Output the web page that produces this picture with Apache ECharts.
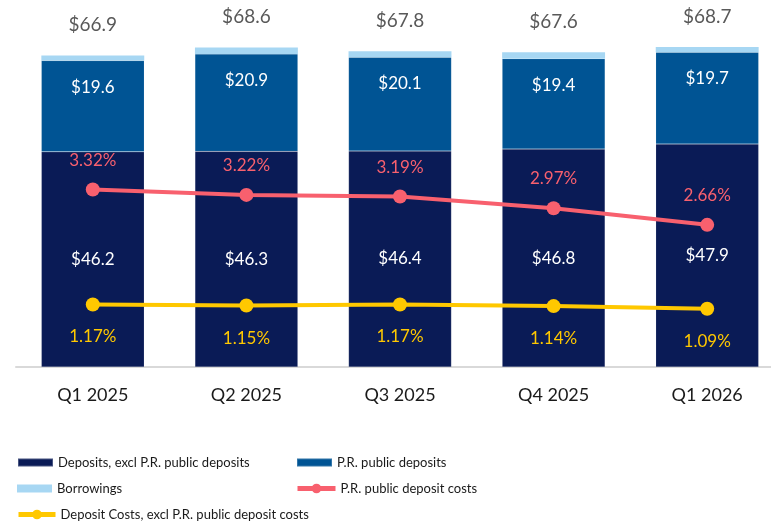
<!DOCTYPE html>
<html>
<head>
<meta charset="utf-8">
<script src="https://cdn.jsdelivr.net/npm/echarts@6/dist/echarts.min.js"></script>
<style>
  html, body { margin: 0; padding: 0; background: #fff; }
  #myChart { width: 771px; height: 521px; }
</style>
</head>
<body>
<div id="myChart"></div>
<script>
// data ($ billions / %)
var quarters = ['Q1 2025', 'Q2 2025', 'Q3 2025', 'Q4 2025', 'Q1 2026'];
var depositsExcl = [46.2, 46.3, 46.4, 46.8, 47.9];
var prDeposits = [19.6, 20.9, 20.1, 19.4, 19.7];
var borrowings = [1.1, 1.4, 1.3, 1.4, 1.1];
var totals = [66.9, 68.6, 67.8, 67.6, 68.7];
var prCosts = [3.32, 3.22, 3.19, 2.97, 2.66];
var depositCosts = [1.17, 1.15, 1.17, 1.14, 1.09];

var font = 'Lato, "Open Sans", sans-serif';
var navy = '#0a1b56';
var blue = '#005494';
var lightBlue = '#a7d7f3';
var red = '#f8606e';
var yellow = '#ffc800';

var myChart = echarts.init(document.getElementById('myChart'));

function oneLegend(name, left, top, w, h, isLine) {
  var lg = {
    data: [name],
    left: left,
    top: top,
    padding: 0,
    itemWidth: w,
    itemHeight: h,
    selectedMode: false,
    textStyle: { fontFamily: font, fontSize: 13, color: '#1a1a1a' }
  };
  if (isLine) {
    lg.lineStyle = { width: 5 };
  } else {
    lg.icon = 'rect';
  }
  return lg;
}

myChart.setOption({
  backgroundColor: '#fff',
  animation: false,
  textStyle: { fontFamily: font },
  legend: [
    oneLegend('Deposits, excl P.R. public deposits', 17, 456, 35, 8),
    oneLegend('P.R. public deposits', 296, 456, 35, 8),
    oneLegend('Borrowings', 17, 482, 35, 8),
    oneLegend('P.R. public deposit costs', 295, 482, 38, 12, true),
    oneLegend('Deposit Costs, excl P.R. public deposit costs', 16, 508, 37, 12, true)
  ],
  grid: { left: 16, top: 41, width: 768, height: 326, outerBoundsMode: 'none' },
  xAxis: {
    type: 'category',
    data: quarters,
    axisTick: { show: false },
    axisLine: { lineStyle: { color: '#d9d9d9', width: 2 } },
    axisLabel: { fontFamily: font, fontSize: 18, color: '#1a1a1a', margin: 19 }
  },
  yAxis: [
    { type: 'value', min: 0, max: 70, show: false },
    { type: 'value', min: 0, max: 6.1, show: false }
  ],
  series: [
    {
      name: 'Deposits, excl P.R. public deposits',
      type: 'bar',
      stack: 'total',
      barWidth: '67%',
      data: depositsExcl,
      itemStyle: { color: navy, borderColor: 'rgba(255,255,255,0.25)', borderWidth: 0.5 },
      label: {
        show: true, position: 'inside', color: '#fff', fontSize: 17,
        formatter: function (p) { return '$' + p.value.toFixed(1); }
      },
      z: 1
    },
    {
      name: 'P.R. public deposits',
      type: 'bar',
      stack: 'total',
      data: prDeposits,
      itemStyle: { color: blue, borderColor: 'rgba(255,255,255,0.2)', borderWidth: 0.5 },
      label: {
        show: true, position: 'insideTop', distance: 18, color: '#fff', fontSize: 17,
        formatter: function (p) { return '$' + p.value.toFixed(1); }
      },
      z: 1
    },
    {
      name: 'Borrowings',
      type: 'bar',
      stack: 'total',
      data: borrowings,
      itemStyle: { color: lightBlue },
      label: {
        show: true, position: 'top', distance: 21, color: '#595959', fontSize: 19,
        formatter: function (p) { return '$' + totals[p.dataIndex].toFixed(1); }
      },
      z: 1
    },
    {
      name: 'P.R. public deposit costs',
      type: 'line',
      yAxisIndex: 1,
      data: prCosts,
      symbol: 'circle',
      symbolSize: 14,
      color: red,
      lineStyle: { color: red, width: 4 },
      itemStyle: { color: red },
      label: {
        show: true, position: 'top', distance: 14, color: red, fontSize: 17,
        formatter: function (p) { return p.value.toFixed(2) + '%'; }
      },
      z: 3
    },
    {
      name: 'Deposit Costs, excl P.R. public deposit costs',
      type: 'line',
      yAxisIndex: 1,
      data: depositCosts,
      symbol: 'circle',
      symbolSize: 14,
      color: yellow,
      lineStyle: { color: yellow, width: 4 },
      itemStyle: { color: yellow },
      label: {
        show: true, position: 'bottom', distance: 17, color: yellow, fontSize: 17,
        formatter: function (p) { return p.value.toFixed(2) + '%'; }
      },
      z: 3
    }
  ]
});
</script>
</body>
</html>
